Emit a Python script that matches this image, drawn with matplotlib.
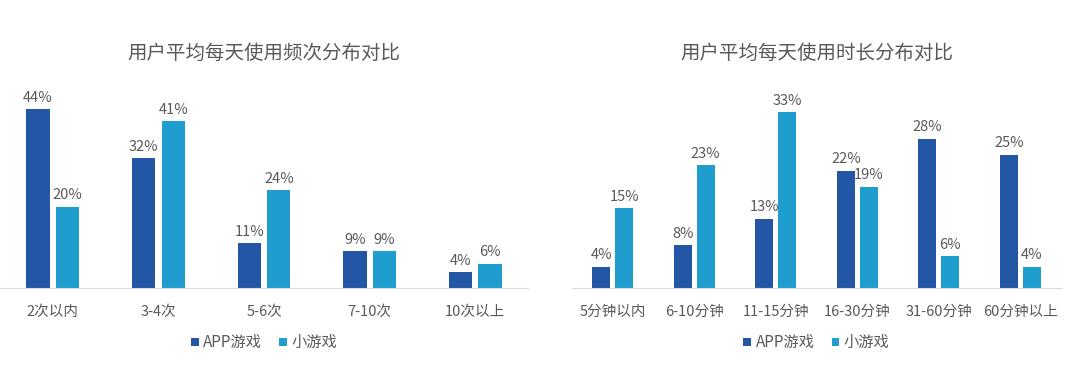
import numpy as np
import matplotlib
matplotlib.use("Agg")
from matplotlib import pyplot as plt

plt.rcParams['font.family'] = ['Noto Sans CJK SC', 'DejaVu Sans']

#data -- values in percent
freq_labels = ['2次以内', '3-4次', '5-6次', '7-10次', '10次以上']
freq_app = [44, 32, 11, 9, 4]
freq_mini = [20, 41, 24, 9, 6]

time_labels = ['5分钟以内', '6-10分钟', '11-15分钟', '16-30分钟', '31-60分钟', '60分钟以上']
time_app = [4, 8, 13, 22, 28, 25]
time_mini = [15, 23, 33, 19, 6, 4]

series_names = ['APP游戏', '小游戏']
titles = ['用户平均每天使用频次分布对比', '用户平均每天使用时长分布对比']

#style
app_color = '#2356a5'
mini_color = '#1f9dce'
text_color = '#595959'
bar_w = 0.22
gap = 0.06

fig = plt.figure(figsize=(10.8, 3.68), dpi=100)
ax1 = fig.add_axes([0.0, 0.2174, 0.489, 0.565])
ax2 = fig.add_axes([0.5296, 0.2174, 0.4528, 0.565])


def draw(ax, labels, app, mini, title, ymax):
    x = np.arange(len(labels))
    b1 = ax.bar(x - (bar_w + gap) / 2, app, bar_w, color=app_color, label=series_names[0])
    b2 = ax.bar(x + (bar_w + gap) / 2, mini, bar_w, color=mini_color, label=series_names[1])
    for bars in (b1, b2):
        for r in bars:
            ax.annotate('%d%%' % r.get_height(), (r.get_x() + r.get_width() / 2, r.get_height()),
                        xytext=(0, 3), textcoords='offset points', ha='center', va='bottom',
                        fontsize=10.5, color=text_color)
    ax.set_xlim(-0.5, len(labels) - 0.5)
    ax.set_ylim(0, ymax)
    ax.set_xticks(x)
    ax.set_xticklabels(labels, fontsize=10.5, color=text_color)
    ax.tick_params(axis='x', length=0, pad=12)
    ax.set_yticks([])
    for s in ['top', 'right', 'left']:
        ax.spines[s].set_visible(False)
    ax.spines['bottom'].set_color('#d9d9d9')
    ax.text(0.5, 1.13, title, transform=ax.transAxes, ha='center', va='center',
            fontsize=14, color=text_color)
    ax.legend(loc='center', bbox_to_anchor=(0.5, -0.264), ncol=2, frameon=False,
              fontsize=11, handlelength=0.5, handleheight=0.5, handletextpad=0.3,
              columnspacing=1.1, labelcolor=text_color)


draw(ax1, freq_labels, freq_app, freq_mini, titles[0], 51.1)
draw(ax2, time_labels, time_app, time_mini, titles[1], 38.95)

plt.savefig('out.png', dpi=100)
